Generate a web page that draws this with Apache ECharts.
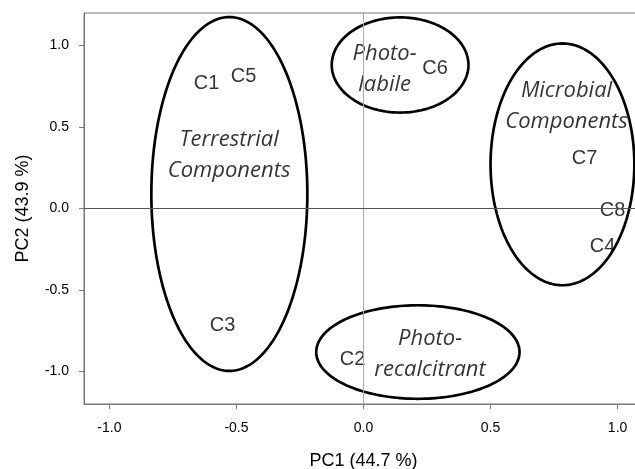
<!DOCTYPE html>
<html><head><meta charset="utf-8">
<script src="https://cdn.jsdelivr.net/npm/echarts@6/dist/echarts.min.js"></script>
<style>html,body{margin:0;padding:0;background:#fff}#c{width:635px;height:469px}</style>
</head><body><div id="c"></div>
<script>
// Component loadings (label positions)
const compNames = ['C1','C5','C3','C6','C7','C8','C4','C2'];
const compPC1 = [-0.618,-0.472,-0.555,0.282,0.870,0.980,0.941,-0.043];
const compPC2 = [0.765,0.808,-0.715,0.858,0.306,-0.010,-0.232,-0.929];

// Group ellipses
const groupNames = ['Terrestrial\nComponents','Photo-\nlabile','Microbial\nComponents','Photo-\nrecalcitrant'];
const groupCX = [-0.528,0.144,0.783,0.214];
const groupCY = [0.089,0.881,0.271,-0.881];
const groupRX = [0.307,0.269,0.283,0.400];
const groupRY = [1.086,0.292,0.742,0.287];
// group title positions
const titleX = [-0.529,0.083,0.799,0.262];
const titleY = [0.324,0.853,0.627,-0.896];

const xTicks = [-1.0,-0.5,0.0,0.5,1.0];
const yTicks = [-1.0,-0.5,0.0,0.5,1.0];

const chart = echarts.init(document.getElementById('c'));
const ellipseData = groupCX.map((cx,i)=>[cx,groupCY[i],groupRX[i],groupRY[i]]);
const compData = compNames.map((n,i)=>[compPC1[i],compPC2[i],n]);
const titleData = groupNames.map((n,i)=>[titleX[i],titleY[i],n]);

chart.setOption({
  animation:false,
  grid:{left:84,top:13,right:-8,bottom:65,outerBoundsMode:'none',containLabel:false,show:true,borderColor:'#777',borderWidth:1,backgroundColor:'transparent'},
  xAxis:{type:'value',min:-1.1,max:1.1,interval:0.5,
    name:'PC1 (44.7 %)',nameLocation:'middle',nameGap:48,
    nameTextStyle:{fontFamily:'Liberation Sans',fontSize:18,color:'#000'},
    axisLine:{show:true,onZero:false,lineStyle:{color:'#777',width:1}},
    axisTick:{show:true,length:5,lineStyle:{color:'#777'},customValues:xTicks},
    axisLabel:{fontFamily:'Liberation Sans',fontSize:14,color:'#000',margin:17,customValues:xTicks,
      formatter:v=>v.toFixed(1)},
    splitLine:{show:false}},
  yAxis:{type:'value',min:-1.2,max:1.2,
    name:'PC2 (43.9 %)',nameLocation:'middle',nameGap:52,
    nameTextStyle:{fontFamily:'Liberation Sans',fontSize:18,color:'#000'},
    axisLine:{show:true,onZero:false,lineStyle:{color:'#777',width:1}},
    axisTick:{show:true,length:5,lineStyle:{color:'#777'},customValues:yTicks},
    axisLabel:{fontFamily:'Liberation Sans',fontSize:14,color:'#000',margin:15,customValues:yTicks,
      formatter:v=>v.toFixed(1)},
    splitLine:{show:false}},
  series:[
    {type:'scatter',data:[],silent:true,
      markLine:{silent:true,symbol:'none',label:{show:false},animation:false,
        data:[{xAxis:0,lineStyle:{color:'#aaa',width:1,type:'solid'}},
              {yAxis:0,lineStyle:{color:'#555',width:1.2,type:'solid'}}]}},
    {type:'custom',data:ellipseData,silent:true,clip:true,
      renderItem:function(params,api){
        const c = api.coord([api.value(0),api.value(1)]);
        const s = api.size([api.value(2),api.value(3)]);
        const pts=[];
        for(let k=0;k<180;k++){const t=k/180*Math.PI*2;pts.push([c[0]+s[0]*Math.cos(t),c[1]+s[1]*Math.sin(t)]);}
        return {type:'polygon',shape:{points:pts},style:{fill:'none',stroke:'#000',lineWidth:2.7}};
      }},
    {type:'scatter',data:compData,symbolSize:0,silent:true,
      label:{show:true,position:'inside',formatter:p=>p.value[2],
        fontFamily:'Liberation Sans',fontSize:20,color:'#000'}},
    {type:'scatter',data:titleData,symbolSize:0,silent:true,
      label:{show:true,position:'inside',formatter:p=>p.value[2],
        fontFamily:'Open Sans',fontStyle:'italic',fontSize:22,lineHeight:31,color:'#000',align:'center'}}
  ]
});
</script></body></html>
